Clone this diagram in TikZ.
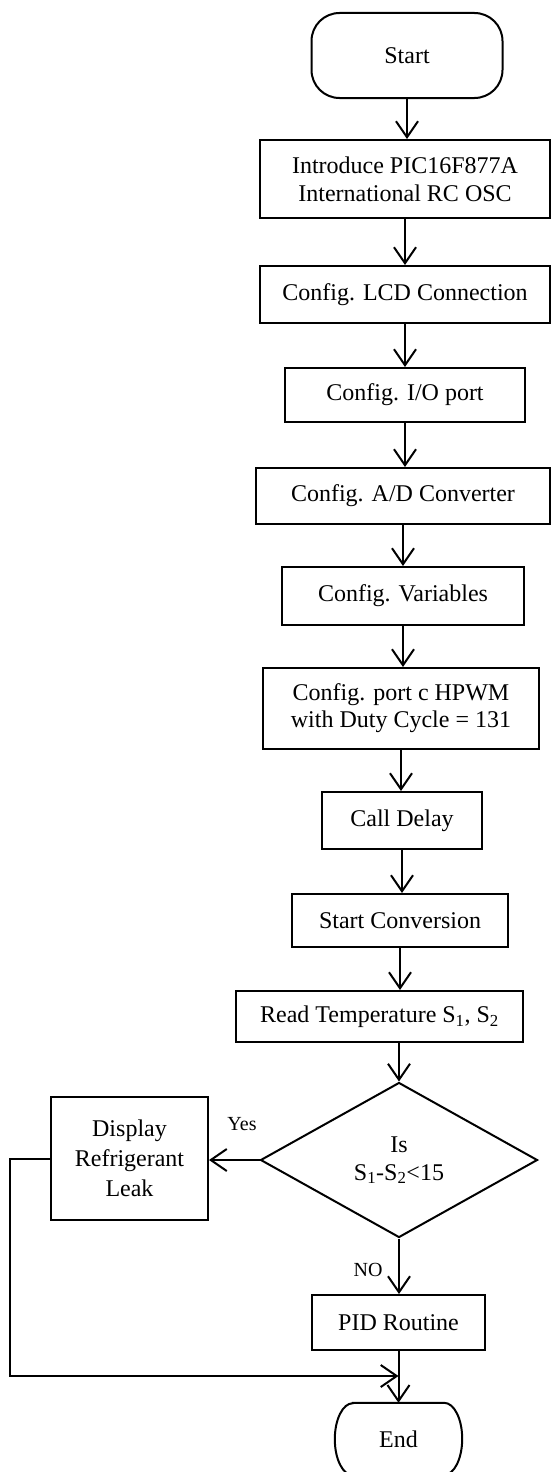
\documentclass[tikz,border=0pt]{standalone}
\usepackage{fontspec}
\setmainfont{Liberation Serif}
\usetikzlibrary{arrows.meta,shapes.geometric}
\begin{document}
\begin{tikzpicture}[x=1pt,y=-1pt,
  lw/.style={line width=2pt},
  box/.style={draw, lw, rectangle, inner sep=0pt, align=center,
    font=\fontsize{24}{28}\selectfont},
  term/.style={box, rounded corners=28pt},
  dec/.style={draw, lw, diamond, inner sep=0pt, align=center,
    font=\fontsize{24}{28}\selectfont},
  lbl/.style={inner sep=0pt, font=\fontsize{20}{24}\selectfont},
  arr/.style={lw, -{Straight Barb[length=16pt,width=22pt]}}]
\useasboundingbox (0,0) rectangle (553,1472);
\clip (0,0) rectangle (553,1472);

\node[term, minimum width=191pt, minimum height=85pt] (start) at (407,55.5) {Start};
\node[box, minimum width=290pt, minimum height=78pt] (intro) at (405,179) {Introduce PIC16F877A\\International RC OSC};
\node[box, minimum width=290pt, minimum height=57pt] (lcd) at (405,294.5) {Config. LCD Connection};
\node[box, minimum width=240pt, minimum height=54pt] (io) at (405,395) {Config. I/O port};
\node[box, minimum width=294pt, minimum height=56pt] (ad) at (403,496) {Config. A/D Converter};
\node[box, minimum width=242pt, minimum height=58pt] (var) at (403,596) {Config. Variables};
\node[box, minimum width=276pt, minimum height=81pt, font=\fontsize{24}{27}\selectfont] (hpwm) at (401,708.5) {Config. port c HPWM\\with Duty Cycle = 131};
\node[box, minimum width=160pt, minimum height=57pt] (delay) at (402,820.5) {Call Delay};
\node[box, minimum width=216pt, minimum height=53pt] (conv) at (400,920.5) {Start Conversion};
\node[box, minimum width=287pt, minimum height=51pt] (read) at (379.5,1016.5) {Read Temperature S\textsubscript{1}, S\textsubscript{2}};
\node[dec, minimum width=277pt, minimum height=155pt] (dia) at (399,1160) {Is\\S\textsubscript{1}-S\textsubscript{2}<15};
\node[box, minimum width=157pt, minimum height=123pt, font=\fontsize{24}{30}\selectfont] (disp) at (129.5,1158.5) {Display\\Refrigerant\\Leak};
\node[box, minimum width=173pt, minimum height=55pt] (pid) at (398.5,1322.5) {PID Routine};
\node[inner sep=0pt, minimum width=127pt, minimum height=72pt, font=\fontsize{24}{28}\selectfont] (end) at (398.5,1439) {End};
\draw[lw] ([xshift=18pt]end.north west) -- ([xshift=-18pt]end.north east)
  arc[start angle=90, end angle=-90, x radius=18pt, y radius=36pt]
  -- ([xshift=18pt]end.south west)
  arc[start angle=270, end angle=90, x radius=18pt, y radius=36pt] -- cycle;

\node[lbl] (yes) at (242,1124) {Yes};
\node[lbl] (no) at (368,1270) {NO};

\draw[arr] (start.south) -- (start.south |- intro.north);
\draw[arr] (intro.south) -- (intro.south |- lcd.north);
\draw[arr] (lcd.south) -- (lcd.south |- io.north);
\draw[arr] (io.south) -- (io.south |- ad.north);
\draw[arr] (ad.south) -- (ad.south |- var.north);
\draw[arr] (var.south) -- (var.south |- hpwm.north);
\draw[arr] (hpwm.south) -- (hpwm.south |- delay.north);
\draw[arr] (delay.south) -- (delay.south |- conv.north);
\draw[arr] (conv.south) -- (conv.south |- read.north);
\draw[arr] (dia.north |- read.south) -- (dia.north);
\draw[arr] (dia.west) -- (dia.west -| disp.east);
\draw[arr] (dia.south) -- (dia.south |- pid.north);
\draw[arr] (pid.south) -- (pid.south |- end.north);
\coordinate (fb) at (10,1376);
\draw[arr] (disp.west) -| (fb) -- (fb -| pid.south);
\end{tikzpicture}
\end{document}
